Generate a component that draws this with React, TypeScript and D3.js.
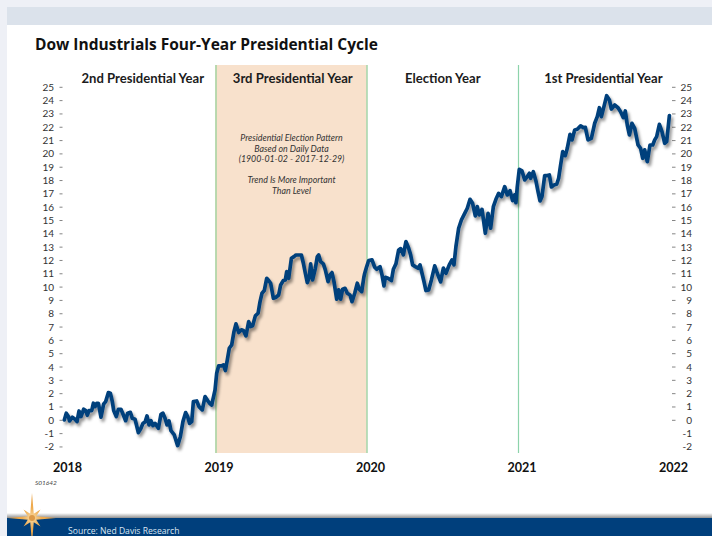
import React from "react";
import * as d3 from "d3";

// Average Dow path over the four-year cycle, expressed as years since the start and % gain.
const cycleYears = [
  0.002, 0.015, 0.029, 0.037, 0.055, 0.073, 0.086, 0.099, 0.112, 0.13, 0.143, 0.154, 0.165, 0.183, 0.194, 0.205,
  0.216, 0.227, 0.244, 0.262, 0.275, 0.293, 0.306, 0.319, 0.328, 0.345, 0.359, 0.376, 0.392, 0.407, 0.42, 0.438,
  0.451, 0.469, 0.491, 0.508, 0.521, 0.535, 0.548, 0.561, 0.574, 0.587, 0.601, 0.623, 0.64, 0.653, 0.667, 0.68,
  0.693, 0.706, 0.728, 0.75, 0.768, 0.785, 0.803, 0.816, 0.829, 0.843, 0.854, 0.876, 0.891, 0.913, 0.931, 0.948,
  0.961, 0.975, 0.997,
  1.008, 1.021, 1.039, 1.052, 1.065, 1.078, 1.091, 1.107, 1.122, 1.135, 1.153, 1.171, 1.184, 1.201, 1.219, 1.232,
  1.245, 1.263, 1.281, 1.294, 1.307, 1.322, 1.338, 1.351, 1.364, 1.382, 1.399, 1.417, 1.43, 1.448, 1.461, 1.47,
  1.483, 1.501, 1.518, 1.531, 1.549, 1.567, 1.58, 1.593, 1.606, 1.619, 1.628, 1.641, 1.659, 1.672, 1.681, 1.694,
  1.712, 1.725, 1.743, 1.756, 1.769, 1.782, 1.8, 1.813, 1.826, 1.839, 1.855, 1.87, 1.888, 1.901, 1.919, 1.936,
  1.949, 1.965, 1.98, 1.985, 1.998,
  2.011, 2.033, 2.051, 2.064, 2.086, 2.099, 2.112, 2.121, 2.139, 2.161, 2.174, 2.191, 2.209, 2.222, 2.24, 2.257,
  2.275, 2.288, 2.301, 2.319, 2.337, 2.35, 2.363, 2.376, 2.389, 2.407, 2.425, 2.447, 2.464, 2.486, 2.504, 2.521,
  2.543, 2.561, 2.574, 2.587, 2.605, 2.623, 2.645, 2.662, 2.68, 2.697, 2.715, 2.728, 2.741, 2.759, 2.781, 2.799,
  2.816, 2.834, 2.851, 2.869, 2.887, 2.909, 2.926, 2.944, 2.961, 2.975, 2.983, 2.992,
  3.005, 3.023, 3.041, 3.058, 3.072, 3.08, 3.098, 3.116, 3.129, 3.142, 3.155, 3.173, 3.19, 3.204, 3.217, 3.234,
  3.252, 3.265, 3.278, 3.292, 3.309, 3.322, 3.34, 3.353, 3.371, 3.388, 3.41, 3.428, 3.441, 3.459, 3.481, 3.503,
  3.52, 3.534, 3.547, 3.564, 3.582, 3.6, 3.613, 3.635, 3.657, 3.674, 3.692, 3.705, 3.718, 3.732, 3.749, 3.767,
  3.789, 3.806, 3.82, 3.833, 3.85, 3.868, 3.886, 3.899, 3.912, 3.93, 3.947, 3.965, 3.978, 3.996,
];

const cycleGains = [
  0.03, 0.53, 0.28, -0.05, 0.23, 0.08, -0.1, 0.7, 0.28, 0.83, 0.73, 0.38, 0.73, 0.73, 1.28, 1.03,
  1.28, 1.28, 0.23, 1.23, 1.4, 2.08, 2.03, 1.4, 0.73, 0.28, 0.83, 0.83, 0.4, -0.03, 0.53, 0.6,
  0.15, 0.08, -0.93, -0.6, -0.23, -0.13, 0.33, -0.35, -0.03, -0.4, -0.23, -0.6, 0.45, 0.53, 0.15, -0.35,
  -0.05, -0.78, -1.1, -1.9, -1.23, -0.1, 0.58, 0.28, -0.23, -0.1, 1.4, 1.45, 1.03, 0.78, 1.78, 1.48,
  1.28, 1.15, 2.28,
  3.54, 4.09, 4.09, 4.16, 3.74, 4.54, 5.41, 5.66, 6.66, 7.24, 6.59, 6.79, 6.74, 6.34, 7.41, 7.04,
  7.09, 7.84, 8.04, 8.91, 9.54, 9.74, 10.66, 10.49, 10.29, 9.16, 9.24, 9.41, 10.16, 10.49, 10.54, 11.16,
  10.66, 12.16, 12.29, 12.41, 12.41, 12.41, 11.79, 11.04, 10.34, 10.79, 11.74, 10.54, 11.41, 12.29, 12.41, 11.91,
  11.74, 11.29, 10.41, 10.91, 11.09, 10.41, 9.09, 9.79, 9.09, 9.84, 9.91, 9.54, 9.41, 8.91, 9.54, 10.29,
  9.84, 9.66, 10.79, 11.04, 11.54,
  11.99, 12.04, 11.49, 11.34, 11.54, 10.92, 10.09, 10.74, 10.67, 10.49, 11.34, 11.74, 12.79, 12.89, 12.42, 13.42,
  12.92, 12.42, 11.67, 11.54, 11.42, 11.67, 11.04, 10.42, 9.74, 9.79, 10.54, 11.59, 11.04, 10.39, 11.42, 11.04,
  11.67, 12.04, 11.67, 13.04, 14.42, 15.04, 15.54, 15.92, 16.59, 16.29, 15.34, 16.04, 15.42, 15.84, 14.04, 15.54,
  14.42, 16.04, 16.59, 17.04, 16.79, 17.54, 16.92, 17.24, 16.49, 16.92, 16.34, 17.54,
  18.84, 18.72, 18.05, 18.3, 18.55, 18.17, 18.67, 17.92, 17.17, 16.47, 16.8, 18.37, 18.37, 18.42, 17.52, 17.67,
  17.72, 18.17, 19.17, 20.17, 19.87, 20.42, 21.47, 21.05, 21.8, 21.85, 22.1, 21.97, 22.0, 21.05, 21.17, 22.3,
  22.8, 23.47, 22.8, 23.55, 24.37, 24.05, 23.37, 23.67, 23.47, 23.17, 22.72, 23.22, 22.17, 21.42, 22.3, 21.92,
  20.67, 20.42, 19.67, 20.3, 19.42, 20.67, 20.67, 21.05, 21.3, 22.22, 21.67, 20.8, 20.92, 22.87,
];

const yearTicks = [0, 1, 2, 3, 4];
const yearLabels = ["2018", "2019", "2020", "2021", "2022"];
const phaseNames = ["2nd Presidential Year", "3rd Presidential Year", "Election Year", "1st Presidential Year"];
const gainTicks = d3.range(-2, 26);
const noteLines = [
  "Presidential Election Pattern",
  "Based on Daily Data",
  "(1900-01-02 - 2017-12-29)",
  "",
  "Trend Is More Important",
  "Than Level",
];

const WIDTH = 712;
const HEIGHT = 536;
const LABEL_FONT = "Lato, Carlito, sans-serif";
const HEAD_FONT = "'Open Sans', sans-serif";

const x = d3.scaleLinear().domain([0, 4]).range([64, 670]);
const y = d3.scaleLinear().domain([0, 25]).range([420.3, 87.3]);

// Headings sit at slightly different spots within their year columns.
const phaseCentres = [0.52, 1.51, 2.5, 3.56];

const linePath = d3
  .line<number>()
  .x((_, i) => x(cycleYears[i]))
  .y((d) => y(d))
  .curve(d3.curveLinear)(cycleGains) as string;

// Eight-pointed compass star: long cardinal points and shorter diagonals around the centre.
function starPoints(cx: number, cy: number, radii: number[], inner: number) {
  const pts: string[] = [];
  radii.forEach((r, i) => {
    const a = (i * Math.PI) / 4 - Math.PI / 2;
    pts.push(`${cx + r * Math.cos(a)},${cy + r * Math.sin(a)}`);
    const b = a + Math.PI / 8;
    pts.push(`${cx + inner * Math.cos(b)},${cy + inner * Math.sin(b)}`);
  });
  return pts.join(" ");
}

export default function App() {
  return (
    <svg
      width={WIDTH}
      height={HEIGHT}
      viewBox={`0 0 ${WIDTH} ${HEIGHT}`}
      style={{ position: "absolute", left: 0, top: 0, display: "block" }}
    >
      <defs>
        <filter id="lineShadow" x="-5%" y="-5%" width="110%" height="110%">
          <feDropShadow dx="2" dy="3" stdDeviation="1.6" floodColor="#000" floodOpacity="0.42" />
        </filter>
        <linearGradient id="footerEdge" x1="0" y1="0" x2="0" y2="1">
          <stop offset="0" stopColor="#ffffff" />
          <stop offset="1" stopColor="#8f8f8f" />
        </linearGradient>
        <radialGradient id="starFill" cx="0.5" cy="0.5" r="0.5">
          <stop offset="0" stopColor="#f9dca6" />
          <stop offset="0.4" stopColor="#efac50" />
          <stop offset="1" stopColor="#e89d3c" />
        </radialGradient>
      </defs>

      {/* Slide frame */}
      <rect width={WIDTH} height={HEIGHT} fill="#eef0f6" />
      <rect x={7} y={7} width={WIDTH - 7} height={HEIGHT - 7} fill="#ffffff" />
      <rect x={7} y={7} width={WIDTH - 7} height={18} fill="#dbe2eb" />
      <rect x={7} y={513} width={WIDTH - 7} height={5} fill="url(#footerEdge)" />
      <rect x={7} y={518} width={WIDTH - 7} height={18} fill="#003f7c" />

      <text x={35} y={50} fontFamily={HEAD_FONT} fontWeight={700} fontSize={15.5} fill="#111">
        Dow Industrials Four-Year Presidential Cycle
      </text>

      {/* Third-year shading and year dividers */}
      <rect x={x(1)} y={65} width={x(2) - x(1)} height={388} fill="#f8e1cc" />
      <line x1={x(1) + 0.5} x2={x(1) + 0.5} y1={65} y2={453} stroke="#a9d5a4" strokeWidth={1.6} />
      <line x1={x(2)} x2={x(2)} y1={65} y2={453} stroke="#a9d8ae" strokeWidth={1.6} />
      <line x1={x(3)} x2={x(3)} y1={65} y2={453} stroke="#8dd3ab" strokeWidth={1.2} />

      {phaseNames.map((name, i) => (
        <text
          key={name}
          x={x(phaseCentres[i])}
          y={83}
          textAnchor="middle"
          fontFamily={LABEL_FONT}
          fontWeight={700}
          fontSize={13.1}
          fill="#1c1c1c"
        >
          {name}
        </text>
      ))}

      {noteLines.map((line, i) => (
        <text
          key={i}
          x={291.5}
          y={141 + i * 10.5}
          textAnchor="middle"
          fontFamily={LABEL_FONT}
          fontStyle="italic"
          fontSize={8.8}
          fill="#333"
        >
          {line}
        </text>
      ))}

      {/* Left axis */}
      {gainTicks.map((t) => (
        <g key={`l${t}`}>
          <text x={54} y={y(t) + 3.5} textAnchor="end" fontFamily={LABEL_FONT} fontSize={10} fill="#333">
            {t}
          </text>
          <line x1={59.5} x2={62.5} y1={y(t)} y2={y(t)} stroke="#777" strokeWidth={0.9} />
        </g>
      ))}

      {/* Right axis: the two negative levels carry no tick mark */}
      {gainTicks.map((t) => (
        <g key={`r${t}`}>
          <text x={692} y={y(t) + 3.5} textAnchor="end" fontFamily={LABEL_FONT} fontSize={10} fill="#333">
            {t}
          </text>
          {t >= 0 && <line x1={672} x2={675.5} y1={y(t)} y2={y(t)} stroke="#777" strokeWidth={0.9} />}
        </g>
      ))}

      {yearTicks.map((t, i) => (
        <text
          key={t}
          x={x(t) + 3.5}
          y={472}
          textAnchor="middle"
          fontFamily={LABEL_FONT}
          fontWeight={700}
          fontSize={12.6}
          fill="#111"
        >
          {yearLabels[i]}
        </text>
      ))}

      <path
        d={linePath}
        fill="none"
        stroke="#03407c"
        strokeWidth={3.7}
        strokeLinejoin="round"
        strokeLinecap="round"
        filter="url(#lineShadow)"
      />

      <text x={35} y={485} fontFamily={LABEL_FONT} fontStyle="italic" fontSize={6.5} fill="#444">
        S01642
      </text>

      {/* Compass logo straddling the footer band */}
      <polygon
        points={starPoints(32, 518, [25, 12, 24, 12, 25, 12, 24, 12], 4.6)}
        fill="url(#starFill)"
      />
      <circle cx={32} cy={518} r={3} fill="#dd9a48" />

      <text x={68} y={534} fontFamily={HEAD_FONT} fontSize={8.6} fill="#dbe6f2">
        Source: Ned Davis Research
      </text>
    </svg>
  );
}
